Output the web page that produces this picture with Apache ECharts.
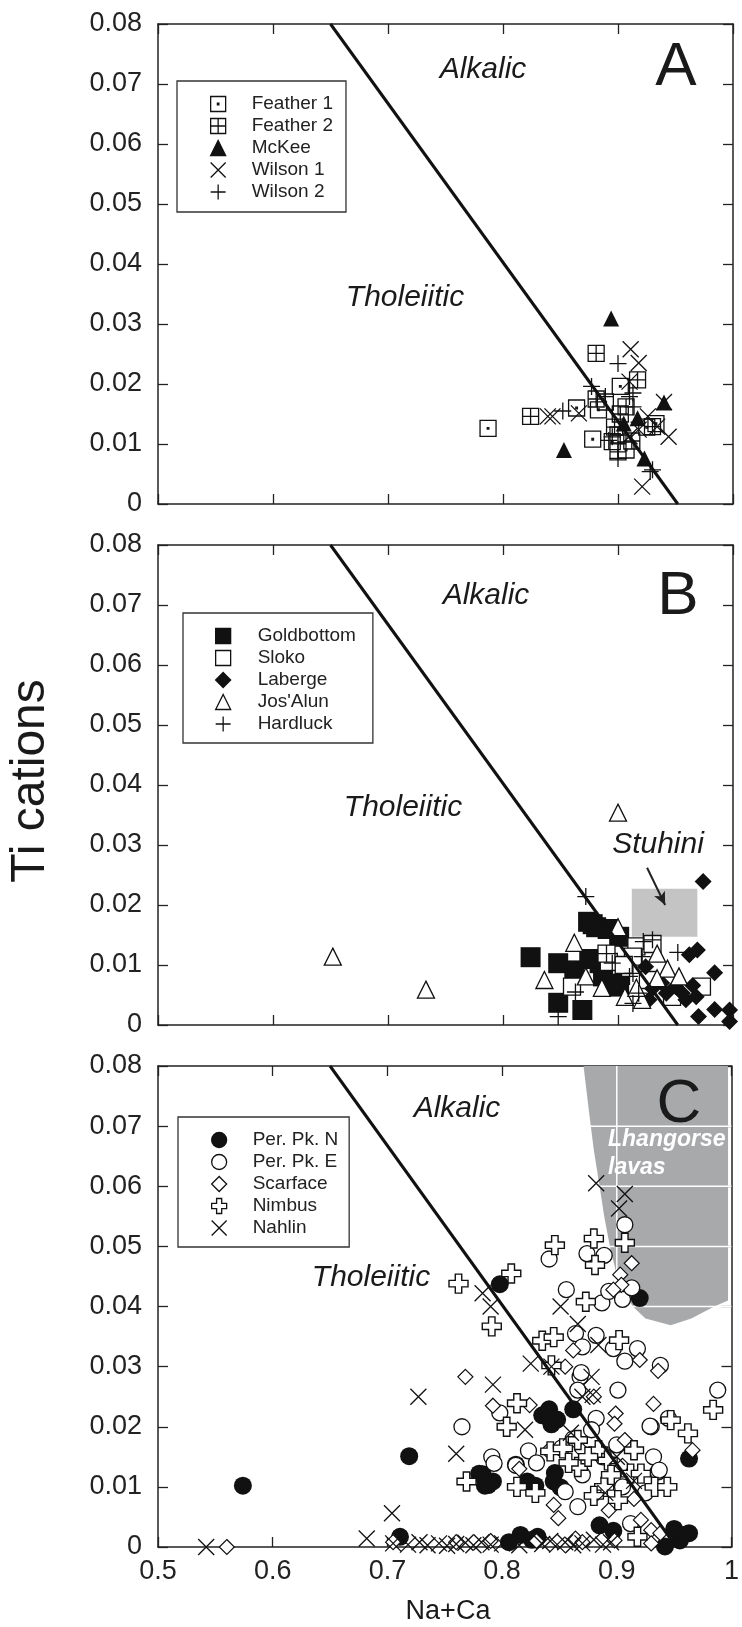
<!DOCTYPE html>
<html><head><meta charset="utf-8">
<script src="https://cdn.jsdelivr.net/npm/echarts@6/dist/echarts.min.js"></script>
<style>html,body{margin:0;padding:0;background:#fff}#c{width:742px;height:1627px}</style>
</head><body><div id="c"></div>
<script>
// ---- tick labels ----
const xTickLabels = ['0.5','0.6','0.7','0.8','0.9','1'];
const yTickLabels = ['0','0.01','0.02','0.03','0.04','0.05','0.06','0.07','0.08'];

// ---- alkalic / tholeiitic divider (same in all panels) ----
const divider = [[0.65, 0.08], [0.952, 0]];

// ---- Panel A ----
const feather1 = [[0.787,0.0126],[0.864,0.0160],[0.878,0.0108],[0.883,0.0157],[0.902,0.0196],[0.895,0.0104],[0.933,0.0134],[0.907,0.0090],[0.889,0.0170],[0.925,0.0128]];
const feather2 = [[0.881,0.0251],[0.824,0.0146],[0.917,0.0207],[0.907,0.0162],[0.900,0.0115],[0.900,0.0087],[0.930,0.0129],[0.881,0.0175],[0.902,0.0150],[0.897,0.0128],[0.912,0.0105]];
const mckee = [[0.894,0.0309],[0.853,0.0090],[0.940,0.0169],[0.917,0.0143],[0.905,0.0134],[0.923,0.0076]];
const wilson1 = [[0.911,0.0258],[0.918,0.0235],[0.910,0.0204],[0.839,0.0146],[0.843,0.0146],[0.866,0.0151],[0.940,0.0170],[0.944,0.0112],[0.934,0.0129],[0.921,0.0029],[0.918,0.0124],[0.910,0.0113],[0.926,0.0146]];
const wilson2 = [[0.900,0.0234],[0.852,0.0155],[0.877,0.0196],[0.910,0.0179],[0.913,0.0185],[0.900,0.0076],[0.930,0.0057],[0.928,0.0054],[0.892,0.0106],[0.895,0.0112],[0.889,0.0179],[0.913,0.0162]];

// ---- Panel B ----
const goldbottom = [[0.824,0.0113],[0.848,0.0103],[0.862,0.0091],[0.848,0.0037],[0.869,0.0025],[0.874,0.0172],[0.881,0.0163],[0.891,0.0160],[0.901,0.0147],[0.884,0.0103],[0.895,0.0069],[0.901,0.0064],[0.887,0.0081],[0.878,0.0168],[0.875,0.0110]];
const sloko = [[0.860,0.0064],[0.916,0.0131],[0.892,0.0105],[0.973,0.0064],[0.947,0.0047],[0.926,0.0075],[0.913,0.0114],[0.890,0.0119],[0.905,0.0100],[0.930,0.0135]];
const laberge = [[0.974,0.0239],[0.962,0.0117],[0.969,0.0125],[0.984,0.0087],[0.965,0.0066],[0.968,0.0047],[0.970,0.0014],[0.984,0.0026],[0.997,0.0025],[0.997,0.0006],[0.956,0.0053],[0.950,0.0064],[0.930,0.0061],[0.927,0.0042],[0.942,0.0053],[0.959,0.0042],[0.924,0.0097],[0.938,0.0070]];
const josalun = [[0.652,0.0114],[0.733,0.0059],[0.900,0.0354],[0.862,0.0137],[0.836,0.0075],[0.900,0.0163],[0.872,0.0081],[0.886,0.0062],[0.906,0.0047],[0.934,0.0119],[0.943,0.0094],[0.953,0.0081],[0.934,0.0078],[0.921,0.0042],[0.916,0.0062]];
const hardluck = [[0.872,0.0214],[0.890,0.0119],[0.895,0.0103],[0.922,0.0139],[0.930,0.0142],[0.952,0.0121],[0.913,0.0086],[0.918,0.0053],[0.913,0.0036],[0.863,0.0055],[0.848,0.0014],[0.910,0.0081],[0.921,0.0114]];
const stuhiniX = [0.912, 0.969];
const stuhiniY = [0.0147, 0.0227];
const stuhiniArrow = [[0.9253, 0.0262], [0.9410, 0.0200]];

// ---- Panel C ----
const perPkN = [[0.574,0.0102],[0.719,0.0151],[0.711,0.0017],[0.798,0.0437],[0.920,0.0414],[0.835,0.0219],[0.841,0.0229],[0.843,0.0204],[0.862,0.0229],[0.848,0.0212],[0.783,0.0121],[0.785,0.0102],[0.792,0.0109],[0.788,0.0103],[0.780,0.0122],[0.812,0.0137],[0.829,0.0102],[0.845,0.0109],[0.851,0.0099],[0.846,0.0123],[0.822,0.0109],[0.806,0.0008],[0.816,0.0020],[0.831,0.0017],[0.826,0.0012],[0.885,0.0036],[0.897,0.0027],[0.950,0.0030],[0.963,0.0023],[0.955,0.0011],[0.942,0.0001],[0.958,0.0020],[0.963,0.0147]];
const perPkE = [[0.765,0.0200],[0.798,0.0223],[0.791,0.0150],[0.793,0.0139],[0.812,0.0136],[0.841,0.0479],[0.856,0.0428],[0.864,0.0355],[0.870,0.0333],[0.874,0.0488],[0.889,0.0485],[0.887,0.0406],[0.882,0.0352],[0.893,0.0425],[0.905,0.0412],[0.913,0.0431],[0.907,0.0536],[0.897,0.0330],[0.907,0.0309],[0.938,0.0302],[0.901,0.0261],[0.930,0.0200],[0.988,0.0261],[0.936,0.0125],[0.868,0.0283],[0.866,0.0261],[0.882,0.0214],[0.929,0.0201],[0.945,0.0214],[0.823,0.0160],[0.855,0.0092],[0.866,0.0067],[0.912,0.0039],[0.932,0.0150],[0.937,0.0128],[0.862,0.0180],[0.878,0.0195],[0.888,0.0150],[0.852,0.0165],[0.900,0.0170],[0.830,0.0140],[0.870,0.0120],[0.905,0.0100],[0.925,0.0090],[0.869,0.0290],[0.918,0.0330]];
const scarface = [[0.560,0.0000],[0.705,0.0008],[0.768,0.0283],[0.792,0.0235],[0.824,0.0236],[0.862,0.0327],[0.903,0.0453],[0.904,0.0436],[0.913,0.0472],[0.897,0.0428],[0.920,0.0311],[0.936,0.0293],[0.932,0.0238],[0.899,0.0222],[0.898,0.0205],[0.907,0.0178],[0.966,0.0161],[0.849,0.0048],[0.893,0.0061],[0.921,0.0045],[0.930,0.0028],[0.938,0.0023],[0.930,0.0006],[0.898,0.0011],[0.864,0.0014],[0.880,0.0250],[0.855,0.0300],[0.815,0.0130],[0.840,0.0160],[0.870,0.0160],[0.845,0.0070],[0.905,0.0135],[0.915,0.0080],[0.790,0.0010],[0.760,0.0008],[0.830,0.0010],[0.870,0.0008]];
const nimbus = [[0.762,0.0438],[0.808,0.0455],[0.791,0.0367],[0.846,0.0502],[0.880,0.0513],[0.881,0.0469],[0.907,0.0506],[0.873,0.0408],[0.835,0.0343],[0.845,0.0349],[0.843,0.0302],[0.902,0.0344],[0.769,0.0109],[0.804,0.0200],[0.813,0.0239],[0.813,0.0100],[0.829,0.0090],[0.842,0.0159],[0.853,0.0164],[0.866,0.0178],[0.866,0.0133],[0.884,0.0161],[0.892,0.0144],[0.889,0.0100],[0.901,0.0078],[0.912,0.0122],[0.921,0.0122],[0.933,0.0100],[0.944,0.0100],[0.915,0.0161],[0.947,0.0211],[0.962,0.0189],[0.984,0.0228],[0.918,0.0017],[0.875,0.0150],[0.858,0.0140],[0.895,0.0120],[0.880,0.0085]];
const nahlin = [[0.542,0.0000],[0.682,0.0014],[0.704,0.0056],[0.727,0.0250],[0.760,0.0155],[0.783,0.0422],[0.790,0.0400],[0.792,0.0270],[0.825,0.0305],[0.843,0.0300],[0.851,0.0400],[0.866,0.0371],[0.884,0.0336],[0.882,0.0605],[0.907,0.0587],[0.902,0.0563],[0.878,0.0283],[0.879,0.0253],[0.870,0.0250],[0.860,0.0190],[0.820,0.0195],[0.900,0.0150],[0.915,0.0110],[0.890,0.0090],
  [0.705,0.0006],[0.718,0.0004],[0.728,0.0008],[0.735,0.0003],[0.745,0.0006],[0.752,0.0002],[0.760,0.0005],[0.768,0.0007],[0.775,0.0003],[0.782,0.0008],[0.790,0.0004],[0.800,0.0006],[0.815,0.0003],[0.835,0.0005],[0.842,0.0010],[0.848,0.0004],[0.855,0.0008],[0.862,0.0003],[0.870,0.0006],[0.880,0.0012],[0.888,0.0004],[0.895,0.0008]];
const lhangorse = [[0.871,0.08],[0.876,0.072],[0.880,0.066],[0.885,0.060],[0.889,0.055],[0.894,0.050],[0.899,0.046],[0.905,0.0428],[0.914,0.040],[0.925,0.038],[0.947,0.0369],[0.965,0.038],[0.985,0.040],[0.997,0.041],[0.997,0.08]];
const lhangorseGridY = [0.04, 0.05, 0.06, 0.07];
const lhangorseGridX = [0.9];

// ---- symbols ----
const P_SQDOT = 'path://M0,0H10V10H0Z M4.5,4.5H5.5V5.5H4.5Z';
const P_SQPLUS = 'path://M0,0H10V10H0Z M5,0V10 M0,5H10';
const P_X = 'path://M0,0L10,10 M10,0L0,10';
const P_PLUS = 'path://M5,0V10 M0,5H10';
const P_CROSS = 'path://M3.3,0H6.7V3.3H10V6.7H6.7V10H3.3V6.7H0V3.3H3.3Z';
const INK = '#111';
const NONE = 'rgba(0,0,0,0)';
const FONT = "'Liberation Sans', Arial, sans-serif";

const panels = [
  {top: 24, height: 480},
  {top: 545, height: 480},
  {top: 1066, height: 481}
];

const grid = panels.map(p => ({left: 158, right: 9, top: p.top, height: p.height}));
const xAxis = [], yAxis = [];
panels.forEach((p, i) => {
  const line = {show: true, onZero: false, lineStyle: {color: '#222', width: 1.5}};
  const tick = {show: true, inside: true, length: 10, lineStyle: {color: '#222', width: 1.3}};
  xAxis.push({type: 'value', gridIndex: i, position: 'bottom', min: 0.5, max: 1.0, interval: 0.1,
    axisLine: line, axisTick: tick, splitLine: {show: false},
    axisLabel: {show: i === 2, margin: 11, fontSize: 27, fontFamily: FONT, color: '#222',
      formatter: v => xTickLabels[Math.round((v - 0.5) / 0.1)]}});
  xAxis.push({type: 'value', gridIndex: i, position: 'top', min: 0.5, max: 1.0, interval: 0.1,
    axisLine: line, axisTick: tick, splitLine: {show: false}, axisLabel: {show: false}});
  yAxis.push({type: 'value', gridIndex: i, position: 'left', min: 0, max: 0.08, interval: 0.01,
    axisLine: line, axisTick: tick, splitLine: {show: false},
    axisLabel: {margin: 16, fontSize: 27, fontFamily: FONT, color: '#222',
      formatter: v => yTickLabels[Math.round(v / 0.01)]}});
  yAxis.push({type: 'value', gridIndex: i, position: 'right', min: 0, max: 0.08, interval: 0.01,
    axisLine: line, axisTick: tick, splitLine: {show: false}, axisLabel: {show: false}});
});

function sc(name, data, gi, symbol, size, fill, bw) {
  return {type: 'scatter', name, data, xAxisIndex: 2 * gi, yAxisIndex: 2 * gi, symbol, symbolSize: size,
    itemStyle: {color: fill, borderColor: INK, borderWidth: bw, opacity: 1}, z: 3, silent: true};
}

const series = [
  // panel A
  sc('Feather 1', feather1, 0, P_SQDOT, 16, NONE, 1.3),
  sc('Feather 2', feather2, 0, P_SQPLUS, 16, NONE, 1.3),
  sc('McKee', mckee, 0, 'triangle', 16, INK, 0),
  sc('Wilson 1', wilson1, 0, P_X, 16, NONE, 1.3),
  sc('Wilson 2', wilson2, 0, P_PLUS, 17, NONE, 1.3),
  // panel B
  {type: 'custom', xAxisIndex: 2, yAxisIndex: 2, z: 1, silent: true, data: [[stuhiniX[0], stuhiniY[0]]],
    renderItem: (params, api) => {
      const a = api.coord([stuhiniX[0], stuhiniY[1]]);
      const b = api.coord([stuhiniX[1], stuhiniY[0]]);
      return {type: 'rect', shape: {x: a[0], y: a[1], width: b[0] - a[0], height: b[1] - a[1]}, style: {fill: '#c4c4c4'}};
    },
    markLine: {silent: true, symbol: ['none', 'arrow'], symbolSize: [9, 13], label: {show: false},
      lineStyle: {color: '#222', width: 2, type: 'solid'},
      data: [[{coord: stuhiniArrow[0]}, {coord: stuhiniArrow[1]}]]}},
  sc('Goldbottom', goldbottom, 1, 'rect', 20, INK, 0),
  sc('Sloko', sloko, 1, 'rect', 17, '#fff', 1.3),
  sc('Laberge', laberge, 1, 'diamond', 17, INK, 0),
  sc("Jos'Alun", josalun, 1, 'triangle', 17, '#fff', 1.3),
  sc('Hardluck', hardluck, 1, P_PLUS, 17, NONE, 1.3),
  // panel C
  {type: 'custom', xAxisIndex: 4, yAxisIndex: 4, z: 1, silent: true, data: [lhangorse[0]],
    renderItem: (params, api) => {
      const pts = lhangorse.map(p => api.coord(p));
      const lines = [];
      lhangorseGridY.forEach(y => {
        const a = api.coord([0.86, y]), b = api.coord([1.0, y]);
        lines.push({type: 'line', shape: {x1: a[0], y1: a[1], x2: b[0], y2: b[1]}, style: {stroke: '#fff', lineWidth: 1.5}});
      });
      lhangorseGridX.forEach(x => {
        const a = api.coord([x, 0.035]), b = api.coord([x, 0.08]);
        lines.push({type: 'line', shape: {x1: a[0], y1: a[1], x2: b[0], y2: b[1]}, style: {stroke: '#fff', lineWidth: 1.5}});
      });
      return {type: 'group', children: [{type: 'polygon', shape: {points: pts}, style: {fill: '#a7a9ab'}}].concat(lines)};
    }},
  sc('Per. Pk. N', perPkN, 2, 'circle', 18, INK, 0),
  sc('Per. Pk. E', perPkE, 2, 'circle', 16, '#fff', 1.3),
  sc('Scarface', scarface, 2, 'diamond', 15, '#fff', 1.2),
  sc('Nimbus', nimbus, 2, P_CROSS, 19, '#fff', 1.4),
  sc('Nahlin', nahlin, 2, P_X, 16, NONE, 1.3)
];
// divider lines
[0, 1, 2].forEach(i => series.push({type: 'line', data: divider, xAxisIndex: 2 * i, yAxisIndex: 2 * i,
  showSymbol: false, symbol: 'none', silent: true, z: 6, lineStyle: {color: INK, width: 3}}));

function legendFor(names, left, top, padTop, padRight, padBottom, padLeft, textPad) {
  return {data: names, orient: 'vertical', left, top, itemWidth: 15, itemHeight: 15, itemGap: 3,
    padding: [padTop, padRight, padBottom, padLeft], borderColor: '#333', borderWidth: 1.3, backgroundColor: '#fff',
    selectedMode: false, itemStyle: {borderWidth: 1.3},
    textStyle: {fontFamily: FONT, fontSize: 19, color: '#222', padding: [0, 0, 0, textPad]}};
}
const legend = [
  legendFor(['Feather 1', 'Feather 2', 'McKee', 'Wilson 1', 'Wilson 2'], 177, 81, 13.5, 13, 10.5, 33, 21),
  legendFor(['Goldbottom', 'Sloko', 'Laberge', "Jos'Alun", 'Hardluck'], 183, 613, 13.5, 17, 9.5, 32, 22),
  legendFor(['Per. Pk. N', 'Per. Pk. E', 'Scarface', 'Nimbus', 'Nahlin'], 178, 1117, 13.5, 11, 9.5, 33, 21)
];

function txt(text, x, y, size, opts) {
  opts = opts || {};
  return {type: 'text', x, y, rotation: opts.rot || 0, z: 10, silent: true,
    style: {text, fill: opts.fill || '#1a1a1a', align: opts.align || 'center', verticalAlign: 'middle',
      textAlign: opts.align || 'center', textVerticalAlign: 'middle',
      font: (opts.style || 'normal') + ' ' + (opts.weight || 'normal') + ' ' + size + 'px ' + (opts.family || FONT)}};
}
const graphic = [
  txt('Alkalic', 483, 70, 30, {style: 'italic'}),
  txt('Tholeiitic', 405, 298, 30, {style: 'italic'}),
  txt('A', 676, 68, 62),
  txt('Alkalic', 486, 596, 30, {style: 'italic'}),
  txt('Tholeiitic', 403, 808, 30, {style: 'italic'}),
  txt('B', 678, 597, 62),
  txt('Stuhini', 658, 845, 30, {style: 'italic'}),
  txt('Alkalic', 457, 1109, 30, {style: 'italic'}),
  txt('Tholeiitic', 371, 1278, 30, {style: 'italic'}),
  txt('C', 679, 1105, 62),
  txt('Lhangorse', 608, 1140, 23, {style: 'italic', weight: 'bold', fill: '#fff', align: 'left'}),
  txt('lavas', 608, 1168, 23, {style: 'italic', weight: 'bold', fill: '#fff', align: 'left'}),
  txt('Ti cations', 31, 781, 48, {rot: Math.PI / 2}),
  txt('Na+Ca', 448, 1612, 27)
];

const chart = echarts.init(document.getElementById('c'), null, {renderer: 'canvas'});
chart.setOption({animation: false, backgroundColor: '#fff', grid, xAxis, yAxis, series, legend, graphic});
</script></body></html>
